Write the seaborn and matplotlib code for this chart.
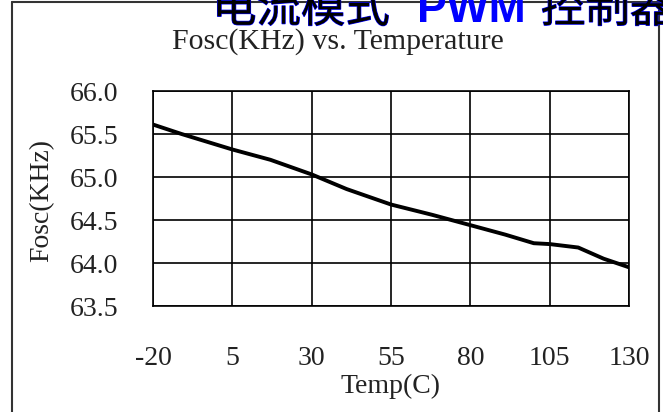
import matplotlib
matplotlib.use("Agg")
import matplotlib.pyplot as plt
import matplotlib.patheffects as pe
import seaborn as sns
import pandas as pd

# values
temps = [-20, -11, 5, 17, 30, 41, 55, 68, 80, 91, 100, 105, 114, 122, 130]
fosc = [65.61, 65.50, 65.32, 65.20, 65.03, 64.86, 64.68, 64.56,
        64.44, 64.33, 64.23, 64.22, 64.18, 64.05, 63.95]

x_ticks = [-20, 5, 30, 55, 80, 105, 130]
y_ticks = [63.5, 64.0, 64.5, 65.0, 65.5, 66.0]

df = pd.DataFrame({"Temp": temps, "Fosc": fosc})

sns.set_style("white")
plt.rcParams["font.family"] = ["Liberation Serif", "DejaVu Serif"]
plt.rcParams["axes.unicode_minus"] = False

fig = plt.figure(figsize=(6.63, 4.12), dpi=100)
ax = fig.add_axes([153 / 663, 1 - 306 / 412, 476 / 663, 215 / 412])

sns.lineplot(
    data=df,
    x="Temp",
    y="Fosc",
    ax=ax,
    color="black",
    linewidth=2.8
)

ax.set_xlim(-20, 130)
ax.set_ylim(63.5, 66.0)
ax.set_xticks(x_ticks)
ax.set_yticks(y_ticks)
ax.set_yticklabels([f"{v:.1f}" for v in y_ticks])

ax.grid(True, color="black", linewidth=1.2)
for s in ax.spines.values():
    s.set_color("black")
    s.set_linewidth(1.2)

ax.tick_params(axis="both", length=0, labelsize=20, colors="#222222")
ax.tick_params(axis="y", pad=25)
ax.tick_params(axis="x", pad=29)

ax.set_xlabel("Temp(C)", fontsize=20, color="#222222", va="center")
ax.xaxis.set_label_coords(0.498, -0.375)
ax.set_ylabel("Fosc(KHz)", fontsize=20, color="#222222", va="center")
ax.yaxis.set_label_coords(-0.233, 0.49)

ax.set_title("Fosc(KHz) vs. Temperature", fontsize=21.5, color="#222222",
             x=0.389, y=1.195, va="baseline", pad=0)

# page header, cut off at the top of the image
outline = [pe.withStroke(linewidth=0.9, foreground="blue")]
head_y = 1 - 22 / 412
fig.text(212 / 663, head_y, "电流模式", fontsize=32,
         family=["Noto Sans CJK SC"], weight="light", color="black",
         va="baseline", path_effects=outline)
fig.text(417 / 663, head_y, "PWM", fontsize=32,
         family=["Liberation Sans"], weight="bold", color="blue",
         va="baseline")
fig.text(541 / 663, head_y, "控制器", fontsize=32,
         family=["Noto Sans CJK SC"], weight="light", color="black",
         va="baseline", path_effects=outline)

# frame round the picture
fig.add_artist(plt.Line2D([12 / 663, 12 / 663], [0, 1 - 2 / 412],
                          color="#333333", linewidth=1.5))
fig.add_artist(plt.Line2D([12 / 663, 659 / 663], [1 - 2 / 412, 1 - 2 / 412],
                          color="#333333", linewidth=1.5))
fig.add_artist(plt.Line2D([659 / 663, 659 / 663], [0, 1 - 2 / 412],
                          color="#333333", linewidth=1.5))

fig.savefig("out.png", dpi=100)
